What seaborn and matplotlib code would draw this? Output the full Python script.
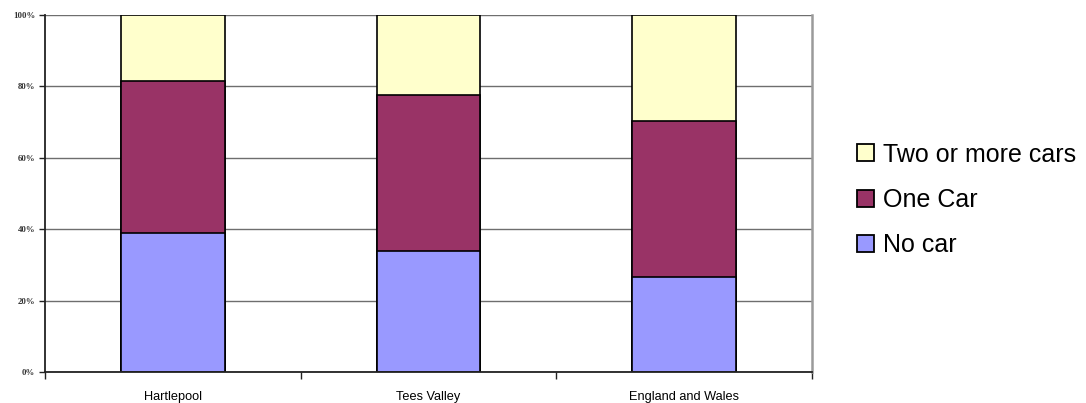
import matplotlib
matplotlib.use("Agg")
import matplotlib.pyplot as plt
from matplotlib.patches import Patch
import numpy as np
import pandas as pd
import seaborn as sns

# Household car availability (% of households)
areas = ["Hartlepool", "Tees Valley", "England and Wales"]
no_car = [38.9, 33.9, 26.6]
one_car = [42.6, 43.8, 43.7]
two_plus = [18.5, 22.3, 29.7]
y_ticks = [0, 20, 40, 60, 80, 100]
y_tick_labels = ["0%", "20%", "40%", "60%", "80%", "100%"]

colors = {"No car": "#9999FF", "One Car": "#993366", "Two or more cars": "#FFFFCC"}

sns.set_theme(style="white")
plt.rcParams["font.family"] = ["Liberation Sans", "DejaVu Sans"]
plt.rcParams["text.color"] = "black"

df = pd.DataFrame({"area": areas, "no": no_car, "one": one_car, "two": two_plus})
df["top_one"] = df["no"] + df["one"]
df["top_two"] = df["top_one"] + df["two"]

fig = plt.figure(figsize=(10.86, 4.03), dpi=100)
ax = fig.add_axes([45 / 1086, 31 / 403, 767 / 1086, 357 / 403])

bar_w = 0.406
edge = dict(edgecolor="black", linewidth=1.2)
# cumulative totals drawn back to front give the stacked look
sns.barplot(data=df, x="area", y="top_two", color=colors["Two or more cars"],
            width=bar_w, saturation=1, ax=ax, **edge)
sns.barplot(data=df, x="area", y="top_one", color=colors["One Car"],
            width=bar_w, saturation=1, ax=ax, **edge)
sns.barplot(data=df, x="area", y="no", color=colors["No car"],
            width=bar_w, saturation=1, ax=ax, **edge)

ax.set_xlim(-0.5, len(areas) - 0.5)
ax.set_ylim(0, 100)
ax.set_xlabel("")
ax.set_ylabel("")

ax.set_yticks(y_ticks)
ax.set_yticklabels(y_tick_labels, fontsize=6.3, family="Liberation Serif",
                   fontweight="bold", color="#333333")
ax.yaxis.grid(True, color="#6e6e6e", linewidth=1.0)
ax.set_axisbelow(True)

# category labels centred on bars, tick marks between categories
ax.set_xticks(np.arange(len(areas)))
ax.set_xticklabels(areas, fontsize=9.2, color="black")
ax.set_xticks(np.arange(len(areas) + 1) - 0.5, minor=True)
ax.tick_params(axis="x", which="major", length=0, pad=14)
ax.tick_params(axis="x", which="minor", length=5, width=1, color="#222222",
               direction="out", bottom=True)
ax.tick_params(axis="y", length=4, width=1, color="#222222", direction="out",
               left=True, pad=3)

for side in ["left", "bottom"]:
    ax.spines[side].set_color("#222222")
    ax.spines[side].set_linewidth(1.3)
ax.spines["top"].set_visible(False)
ax.spines["right"].set_color("#9a9a9a")
ax.spines["right"].set_linewidth(1.8)

handles = [Patch(facecolor=colors[k], edgecolor="black", linewidth=1.3, label=k)
           for k in ["Two or more cars", "One Car", "No car"]]
leg = fig.legend(handles=handles, loc="center left",
                 bbox_to_anchor=(857 / 1086, (403 - 200) / 403),
                 frameon=False, fontsize=18, borderpad=0, borderaxespad=0,
                 handlelength=0.68, handleheight=0.68, handletextpad=0.35,
                 labelspacing=0.86)
for t in leg.get_texts():
    t.set_color("black")

fig.savefig("out.png", dpi=100)
